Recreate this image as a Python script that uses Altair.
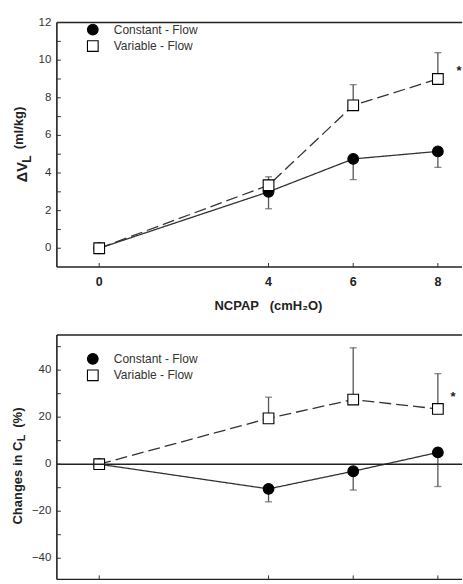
import altair as alt
import pandas as pd

# NCPAP levels (cmH2O)
pressure = [0, 4, 6, 8]
series_names = ["Constant - Flow", "Variable - Flow"]

# Change in end-expiratory lung volume, ml/kg (mean, one-sided SD)
dvl_const = [0.0, 3.0, 4.75, 5.15]
dvl_const_lo = [None, 2.1, 3.65, 4.3]
dvl_var = [0.0, 3.35, 7.6, 9.0]
dvl_var_hi = [None, 3.8, 8.7, 10.4]
dvl_labels = [0, 2, 4, 6, 8, 10, 12]
dvl_ticks = list(range(0, 13))

# Change in lung compliance, % (mean, one-sided SD)
cl_const = [0.0, -10.5, -3.0, 5.0]
cl_const_lo = [None, -16.0, -11.0, -9.5]
cl_var = [0.0, 19.5, 27.5, 23.5]
cl_var_hi = [None, 28.5, 49.5, 38.5]
cl_labels = [-40, -20, 0, 20, 40]
cl_ticks = list(range(-40, 51, 10))

# significance markers (x, y)
dvl_star = [8.5, 9.45]
cl_star = [8.36, 28.6]

FONT = "Liberation Sans"
INK = "#222"
W, H = 406, 245
X_DOMAIN = [-1.0, 8.57]

SHAPES = alt.Scale(domain=series_names, range=["circle", "square"])
FILLS = alt.Scale(domain=series_names, range=["black", "white"])
DASHES = alt.Scale(domain=series_names, range=[[1, 0], [12, 5]])


def frame(mean_c, err_c, mean_v, err_v):
    pts = pd.DataFrame({
        "p": pressure * 2,
        "v": mean_c + mean_v,
        "series": [series_names[0]] * 4 + [series_names[1]] * 4,
    })
    rows = []
    for p, m, e in zip(pressure, mean_c, err_c):
        if e is not None:
            rows.append({"p": p, "v": m, "e": e})
    for p, m, e in zip(pressure, mean_v, err_v):
        if e is not None:
            rows.append({"p": p, "v": m, "e": e})
    return pts, pd.DataFrame(rows)


def text_layer(txt, xpos, ypos, size, angle=0, align="left", weight="bold",
               color=INK):
    tdf = pd.DataFrame({"t": [txt]})
    return alt.Chart(tdf).mark_text(
        font=FONT, fontSize=size, fontWeight=weight, color=color,
        angle=angle, align=align, baseline="middle",
    ).encode(x=alt.value(xpos), y=alt.value(ypos), text="t:N")


def legend_entry(name, ypos):
    df = pd.DataFrame({"series": [name]})
    sym = alt.Chart(df).mark_point(
        size=115, strokeWidth=1.1, opacity=1, filled=True, stroke="black"
    ).encode(
        x=alt.value(36), y=alt.value(ypos),
        shape=alt.Shape("series:N", scale=SHAPES, legend=None),
        fill=alt.Fill("series:N", scale=FILLS, legend=None),
    )
    lab = text_layer(name, 57, ypos, 12, weight="normal", color="#333")
    return [sym, lab]


def panel(mean_c, err_c, mean_v, err_v, y_domain, y_labels, y_ticks,
          star, title_parts, legend_y, x_labels, zero_line):
    pts, errs = frame(mean_c, err_c, mean_v, err_v)
    xs = alt.Scale(domain=X_DOMAIN, nice=False, zero=False)
    ys = alt.Scale(domain=y_domain, nice=False, zero=False)

    base = alt.Chart(pts)
    lines = base.mark_line(color="#333", strokeWidth=1.3).encode(
        x=alt.X("p:Q", scale=xs, axis=None),
        y=alt.Y("v:Q", scale=ys, axis=None),
        strokeDash=alt.StrokeDash("series:N", scale=DASHES, legend=None),
    )

    # one-sided SD bars with caps
    bars = alt.Chart(errs).mark_rule(color="#555", strokeWidth=1.3).encode(
        x="p:Q", y="v:Q", y2="e:Q",
    )
    caps = alt.Chart(errs).mark_tick(
        orient="horizontal", size=7, thickness=1.3, color="#555"
    ).encode(x="p:Q", y="e:Q")

    points = base.mark_point(
        size=115, strokeWidth=1.1, opacity=1, filled=True, stroke="black"
    ).encode(
        x="p:Q", y="v:Q",
        shape=alt.Shape("series:N", scale=SHAPES, legend=None),
        fill=alt.Fill("series:N", scale=FILLS, legend=None),
    )

    # frame: left and bottom domain lines, top edge, optional zero line
    hlines = [y_domain[0], y_domain[1]] + ([0] if zero_line else [])
    hrules = alt.Chart(pd.DataFrame({"h": hlines})).mark_rule(
        color=INK, strokeWidth=1.5).encode(y="h:Q")
    vrule = alt.Chart(pd.DataFrame({"d": [X_DOMAIN[0]]})).mark_rule(
        color=INK, strokeWidth=1.6).encode(x="d:Q")

    # inward ticks
    yticks = alt.Chart(pd.DataFrame({"t": y_ticks})).mark_rule(
        color="#333", strokeWidth=1).encode(
        y="t:Q", x=alt.value(0), x2=alt.value(4))
    xticks = alt.Chart(pd.DataFrame({"t": pressure})).mark_rule(
        color="#333", strokeWidth=1).encode(
        x="t:Q", y=alt.value(H), y2=alt.value(H - 4))

    # tick labels
    ylab = alt.Chart(pd.DataFrame({"t": y_labels})).mark_text(
        font=FONT, fontSize=11.5, color="#333", align="right",
        baseline="middle").encode(
        y="t:Q", x=alt.value(-5.5), text=alt.Text("t:Q", format="d"))
    layers = [lines, bars, caps, points, hrules, vrule, yticks, xticks, ylab]
    if x_labels:
        xlab = alt.Chart(pd.DataFrame({"t": pressure})).mark_text(
            font=FONT, fontSize=12.5, fontWeight="bold", color=INK,
            align="center", baseline="middle").encode(
            x="t:Q", y=alt.value(H + 15), text=alt.Text("t:Q", format="d"))
        layers.append(xlab)
        layers.append(text_layer("NCPAP\u00a0\u00a0\u00a0(cmH\u2082O)", 212,
                                 H + 39, 13, align="center"))

    star_df = pd.DataFrame({"x": [star[0]], "y": [star[1]], "s": ["*"]})
    layers.append(alt.Chart(star_df).mark_text(
        font=FONT, fontSize=13, fontWeight="bold", color=INK,
        baseline="middle", align="center",
    ).encode(x="x:Q", y="y:Q", text="s:N"))

    layers += [text_layer(t, xp, yp, sz, angle=270) for t, xp, yp, sz in title_parts]
    layers += legend_entry(series_names[0], legend_y)
    layers += legend_entry(series_names[1], legend_y + 16.5)
    return alt.layer(*layers).properties(width=W, height=H)


top = panel(
    dvl_const, dvl_const_lo, dvl_var, dvl_var_hi,
    y_domain=[-1, 12], y_labels=dvl_labels, y_ticks=dvl_ticks,
    star=dvl_star,
    title_parts=[("\u0394V", -34, 160, 14.5), ("L", -29.5, 140.5, 12),
                 ("(ml/kg)", -38, 127, 13)],
    legend_y=7, x_labels=True, zero_line=False,
)

bottom = panel(
    cl_const, cl_const_lo, cl_var, cl_var_hi,
    y_domain=[-49, 55], y_labels=cl_labels, y_ticks=cl_ticks,
    star=cl_star,
    title_parts=[("Changes in C", -39, 190, 13), ("L", -34.5, 106.5, 11),
                 ("(%)", -39, 93, 13)],
    legend_y=24, x_labels=False, zero_line=True,
)

chart = alt.vconcat(top, bottom, spacing=21).properties(
    padding={"left": 12, "top": 16, "right": 0, "bottom": 0}
).configure_view(strokeWidth=0)

chart.save("out.html", embed_options={"renderer": "svg", "actions": False})
